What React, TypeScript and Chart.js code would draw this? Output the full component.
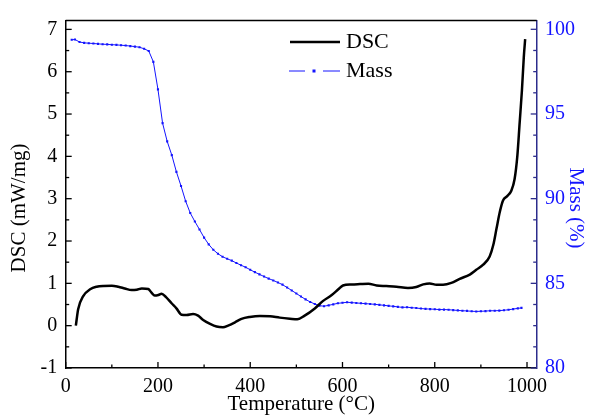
import React, { useEffect, useRef } from "react";
import { Chart, registerables } from "chart.js";

Chart.register(...registerables);

const FONT = "'Liberation Serif', 'Times New Roman', Times, serif";
const BLUE = "#1414ff";
const NAVY = "#2c2c8c";

// DSC curve (temperature °C, mW/mg)
const dscTemp = [22, 27, 38, 53, 67, 82, 100, 114, 128, 143, 154, 165, 179, 186, 193, 201, 208, 217, 230, 240, 251, 262, 276, 287, 298, 313, 327, 341, 352, 367, 381, 399, 421, 443, 464, 486, 502, 518, 540, 558, 576, 591, 601, 620, 638, 656, 674, 695, 717, 742, 760, 775, 789, 804, 818, 836, 854, 876, 890, 905, 919, 927, 934, 941, 948, 957, 966, 973, 979, 984, 989, 993, 996];
const dscValue = [0.0, 0.39, 0.70, 0.86, 0.92, 0.94, 0.944, 0.92, 0.88, 0.84, 0.85, 0.88, 0.866, 0.78, 0.71, 0.726, 0.757, 0.68, 0.524, 0.41, 0.26, 0.25, 0.275, 0.236, 0.135, 0.042, -0.02, -0.036, 0.003, 0.08, 0.16, 0.205, 0.229, 0.22, 0.19, 0.165, 0.15, 0.236, 0.407, 0.586, 0.718, 0.859, 0.95, 0.975, 0.983, 0.99, 0.95, 0.936, 0.92, 0.89, 0.913, 0.975, 0.998, 0.967, 0.967, 1.01, 1.107, 1.208, 1.32, 1.44, 1.636, 1.91, 2.30, 2.686, 2.958, 3.06, 3.19, 3.46, 4.008, 4.785, 5.563, 6.34, 6.768];

// Mass curve (temperature °C, %)
const massTemp = [13, 20, 30, 40, 50, 60, 70, 80, 90, 100, 110, 120, 130, 140, 150, 160, 170, 180, 190, 200, 210, 220, 230, 240, 250, 260, 270, 280, 290, 300, 310, 320, 330, 340, 350, 360, 370, 380, 390, 400, 410, 420, 430, 440, 450, 460, 470, 480, 490, 500, 510, 520, 530, 540, 550, 560, 570, 580, 590, 600, 610, 620, 630, 640, 650, 660, 670, 680, 690, 700, 710, 720, 730, 740, 750, 760, 770, 780, 790, 800, 810, 820, 830, 840, 850, 860, 870, 880, 890, 900, 910, 920, 930, 940, 950, 960, 970, 980, 988];
const massValue = [99.38, 99.40, 99.25, 99.20, 99.18, 99.16, 99.14, 99.12, 99.11, 99.09, 99.08, 99.06, 99.04, 99.01, 98.98, 98.94, 98.85, 98.72, 98.08, 96.45, 94.46, 93.38, 92.57, 91.58, 90.75, 89.85, 89.15, 88.65, 88.18, 87.70, 87.30, 86.98, 86.75, 86.57, 86.45, 86.34, 86.20, 86.07, 85.95, 85.80, 85.66, 85.53, 85.40, 85.28, 85.17, 85.05, 84.92, 84.75, 84.58, 84.40, 84.22, 84.05, 83.90, 83.78, 83.68, 83.65, 83.70, 83.76, 83.82, 83.85, 83.88, 83.86, 83.84, 83.82, 83.80, 83.78, 83.76, 83.73, 83.70, 83.67, 83.64, 83.61, 83.58, 83.59, 83.56, 83.54, 83.51, 83.49, 83.48, 83.47, 83.45, 83.45, 83.44, 83.42, 83.40, 83.38, 83.37, 83.35, 83.34, 83.35, 83.36, 83.38, 83.38, 83.39, 83.41, 83.44, 83.48, 83.52, 83.55];

// Ticks
const xTicks = [0, 200, 400, 600, 800, 1000];
const xMinorTicks = [100, 300, 500, 700, 900];
const dscTicks = [-1, 0, 1, 2, 3, 4, 5, 6, 7];
const dscMinorTicks = [-0.5, 0.5, 1.5, 2.5, 3.5, 4.5, 5.5, 6.5];
const massTicks = [80, 85, 90, 95, 100];
const massMinorTicks = [81.25, 82.5, 83.75, 86.25, 87.5, 88.75, 91.25, 92.5, 93.75, 96.25, 97.5, 98.75];

const xTitle = "Temperature (°C)";
const dscTitle = "DSC (mW/mg)";
const massTitle = "Mass (%)";

const plain = (v: any) => String(v);

const decorPlugin = {
  id: "decor",
  afterDraw(chart: any) {
    const ctx: CanvasRenderingContext2D = chart.ctx;
    const { left, right, top, bottom } = chart.chartArea;
    const sx = chart.scales.x;
    const sy = chart.scales.y;
    const sm = chart.scales.y1;
    const line = (x1: number, y1: number, x2: number, y2: number) => {
      ctx.beginPath();
      ctx.moveTo(x1, y1);
      ctx.lineTo(x2, y2);
      ctx.stroke();
    };
    ctx.save();
    // top frame
    ctx.strokeStyle = "#000";
    ctx.lineWidth = 1.5;
    line(left, top, right, top);
    // inward ticks
    ctx.lineWidth = 1.3;
    xTicks.forEach((v) => { const p = sx.getPixelForValue(v); line(p, bottom, p, bottom - 6); });
    xMinorTicks.forEach((v) => { const p = sx.getPixelForValue(v); line(p, bottom, p, bottom - 3.5); });
    dscTicks.forEach((v) => { const p = sy.getPixelForValue(v); line(left, p, left + 6, p); });
    dscMinorTicks.forEach((v) => { const p = sy.getPixelForValue(v); line(left, p, left + 3.5, p); });
    ctx.strokeStyle = NAVY;
    massTicks.forEach((v) => { const p = sm.getPixelForValue(v); line(right, p, right - 6, p); });
    massMinorTicks.forEach((v) => { const p = sm.getPixelForValue(v); line(right, p, right - 3.5, p); });

    // y titles
    ctx.font = `21px ${FONT}`;
    ctx.textAlign = "center";
    ctx.textBaseline = "middle";
    ctx.fillStyle = "#000";
    ctx.save();
    ctx.translate(19, 208);
    ctx.rotate(-Math.PI / 2);
    ctx.fillText(dscTitle, 0, 0);
    ctx.restore();
    ctx.save();
    ctx.fillStyle = BLUE;
    ctx.translate(576, 208);
    ctx.rotate(Math.PI / 2);
    ctx.fillText(massTitle, 0, 0);
    ctx.restore();

    // legend
    ctx.font = `22px ${FONT}`;
    ctx.textAlign = "left";
    ctx.textBaseline = "middle";
    ctx.fillStyle = "#000";
    ctx.strokeStyle = "#000";
    ctx.lineWidth = 2.5;
    line(290, 42, 340, 42);
    ctx.fillText("DSC", 346, 42);
    ctx.strokeStyle = BLUE;
    ctx.lineWidth = 1;
    line(289, 71, 305, 71);
    line(323, 71, 340, 71);
    ctx.fillStyle = BLUE;
    ctx.fillRect(312.5, 69.5, 3, 3);
    ctx.fillStyle = "#000";
    ctx.fillText("Mass", 346, 71);
    ctx.restore();
  },
};

export default function App() {
  const ref = useRef<HTMLCanvasElement>(null);
  useEffect(() => {
    if (!ref.current) return;
    const chart = new Chart(ref.current, {
      type: "line",
      data: {
        datasets: [
          {
            label: "DSC",
            data: dscTemp.map((t, i) => ({ x: t, y: dscValue[i] })),
            yAxisID: "y",
            borderColor: "#000",
            borderWidth: 2.5,
            pointRadius: 0,
            cubicInterpolationMode: "monotone",
            fill: false,
          },
          {
            label: "Mass",
            data: massTemp.map((t, i) => ({ x: t, y: massValue[i] })),
            yAxisID: "y1",
            borderColor: BLUE,
            borderWidth: 1,
            pointStyle: "rect",
            pointRadius: 1.5,
            pointBackgroundColor: BLUE,
            pointBorderWidth: 0,
            tension: 0,
            fill: false,
          },
        ],
      },
      options: {
        animation: false,
        responsive: true,
        maintainAspectRatio: false,
        events: [],
        layout: { padding: { top: 16, left: 0, right: 0, bottom: 0 } },
        plugins: { legend: { display: false }, tooltip: { enabled: false } },
        scales: {
          x: {
            type: "linear",
            min: 0,
            max: 1021,
            afterBuildTicks: (s: any) => { s.ticks = xTicks.map((v) => ({ value: v })); },
            afterFit: (s: any) => { s.height = 49; },
            grid: { display: false, drawTicks: false },
            border: { display: true, color: "#000", width: 1.5 },
            ticks: { color: "#000", font: { family: FONT, size: 20 }, padding: 7, maxRotation: 0, callback: plain },
            title: { display: true, text: xTitle, color: "#000", font: { family: FONT, size: 21 }, padding: { top: 0, bottom: 0 } },
          },
          y: {
            type: "linear",
            position: "left",
            min: -1,
            max: 7.21,
            afterBuildTicks: (s: any) => { s.ticks = dscTicks.map((v) => ({ value: v })); },
            afterFit: (s: any) => { s.width = 65.7; },
            grid: { display: false, drawTicks: false },
            border: { display: true, color: "#000", width: 1.5 },
            ticks: { color: "#000", font: { family: FONT, size: 20 }, padding: 8.5, callback: plain },
          },
          y1: {
            type: "linear",
            position: "right",
            min: 80,
            max: 100.52,
            afterBuildTicks: (s: any) => { s.ticks = massTicks.map((v) => ({ value: v })); },
            afterFit: (s: any) => { s.width = 52.3; },
            grid: { display: false, drawTicks: false },
            border: { display: true, color: NAVY, width: 1.5 },
            ticks: { color: BLUE, font: { family: FONT, size: 20 }, padding: 8.3, callback: plain },
          },
        },
      },
      plugins: [decorPlugin],
    } as any);
    return () => chart.destroy();
  }, []);
  return (
    <div style={{ position: "fixed", left: 0, top: 0, width: 589, height: 417, background: "#fff" }}>
      <canvas ref={ref} />
    </div>
  );
}
